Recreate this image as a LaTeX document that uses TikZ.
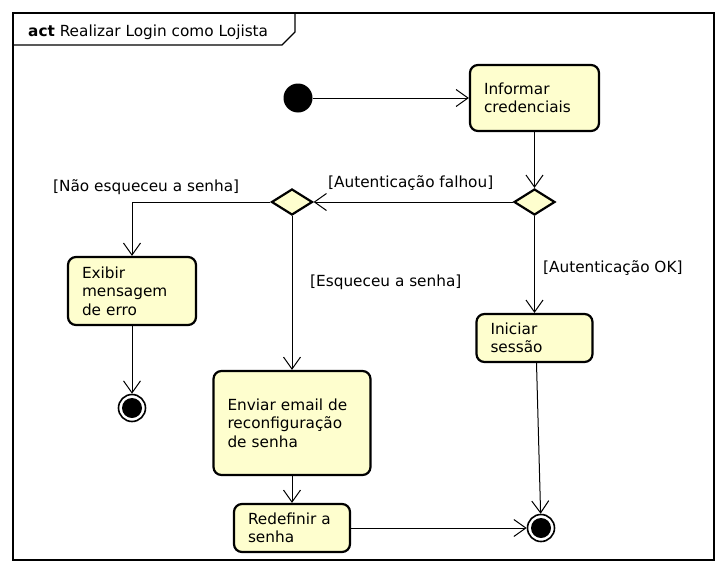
\documentclass[tikz,border=0pt]{standalone}
\usepackage{fontspec}
\setmainfont{DejaVu Sans}
\usetikzlibrary{arrows.meta,shapes.geometric}
\definecolor{umlfill}{HTML}{FEFECE}
\begin{document}
\begin{tikzpicture}[x=1pt,y=-1pt,
  every node/.style={font=\fontsize{15.3}{18.5}\selectfont},
  actbox/.style={draw=black, line width=2.2pt, rounded corners=8pt, fill=umlfill,
    align=left, inner xsep=14pt, inner ysep=0pt},
  decision/.style={diamond, draw=black, line width=2.2pt, fill=umlfill,
    minimum width=41pt, minimum height=26pt, inner sep=0pt},
  startnode/.style={circle, fill=black, minimum size=29pt, inner sep=0pt},
  endnode/.style={circle, draw=black, fill=white, line width=1.6pt, minimum size=27pt, inner sep=0pt,
    path picture={\fill[black] (path picture bounding box.center) circle (10pt);}},
  flow/.style={draw=black, line width=1pt, -{Straight Barb[length=12pt,width=17pt,line width=1pt]}},
  guard/.style={anchor=base west, inner sep=0pt},
  frameline/.style={draw=black, line width=1.3pt}
]
\useasboundingbox (0,0) rectangle (726,573);
% frame
\draw[frameline] (13,13) rectangle (714,560);
\draw[frameline] (13,45) -- (282,45) -- (295,32) -- (295,13);
\node[anchor=base west, inner sep=0pt] (title) at (28,36.5) {\textbf{act} Realizar Login como Lojista};

% nodes
\node[startnode] (start) at (298,98) {};
\node[actbox, minimum width=129pt, minimum height=66pt, text width=101pt] (info) at (534.5,98) {Informar\\credenciais};
\node[decision] (d1) at (534.5,202) {};
\node[decision] (d2) at (292,202) {};
\node[actbox, minimum width=128pt, minimum height=68pt, text width=100pt] (exibir) at (132,291) {Exibir\\mensagem\\de erro};
\node[endnode] (e1) at (132,408) {};
\node[actbox, minimum width=157pt, minimum height=104pt, text width=129pt] (enviar) at (292,423) {Enviar email de\\reconfiguração\\de senha};
\node[actbox, minimum width=116pt, minimum height=48pt, text width=88pt] (redef) at (292,528) {Redefinir a\\senha};
\node[actbox, minimum width=116pt, minimum height=48pt, text width=88pt] (ini) at (534.5,338) {Iniciar\\sessão};
\node[endnode] (e2) at (541,528) {};

% connectors
\draw[flow] (start) -- (info);
\draw[flow] (info) -- (d1);
\draw[flow] (d1.west) -- (d2.east);
\draw[flow] (d2.west) -| (exibir.north);
\draw[flow] (exibir) -- (e1);
\draw[flow] (d2.south) -- (enviar.north);
\draw[flow] (enviar) -- (redef);
\draw[flow] (redef) -- (e2);
\draw[flow] (d1.south) -- (ini.north);
\draw[flow] ([xshift=2pt]ini.south) -- (e2);

% guards
\node[guard] (g1) at (328,187) {[Autenticação falhou]};
\node[guard] (g2) at (53,191) {[Não esqueceu a senha]};
\node[guard] (g3) at (310,286) {[Esqueceu a senha]};
\node[guard] (g4) at (543,272) {[Autenticação OK]};
\end{tikzpicture}
\end{document}
